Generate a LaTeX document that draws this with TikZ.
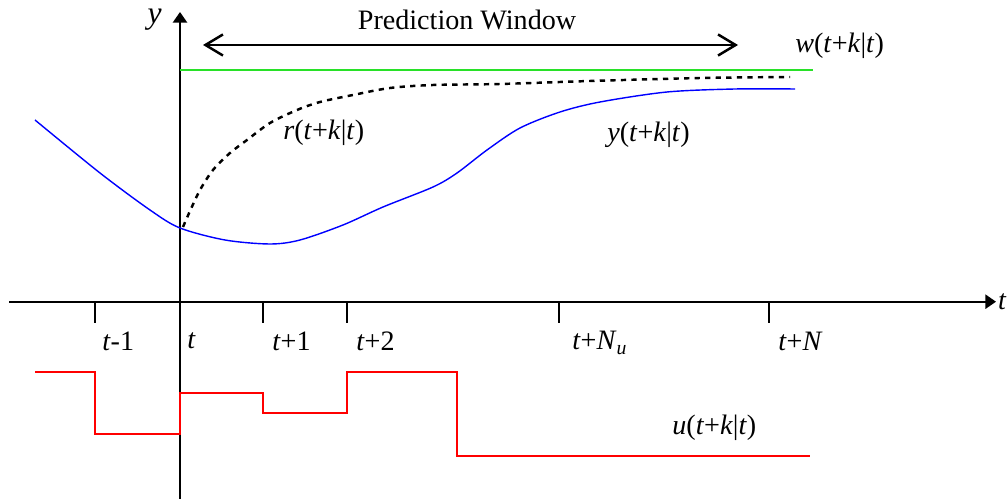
\documentclass[tikz,border=0pt]{standalone}
\usepackage{fontspec}
\setmainfont{Liberation Serif}
\usetikzlibrary{arrows.meta,positioning}
\definecolor{setgreen}{RGB}{40,225,40}
\tikzset{
    myaxis/.style={line width=1.1pt,draw=black,-{Triangle[length=6pt,width=8pt]}},
    mytick/.style={line width=0.9pt,draw=black},
    mywindow/.style={line width=0.9pt,draw=black,{Straight Barb[length=10pt,width=12pt,line width=1.4pt]}-{Straight Barb[length=10pt,width=12pt,line width=1.4pt]}},
    myref/.style={line width=0.9pt,draw=setgreen},
    mypred/.style={line width=1.4pt,draw=black,dash pattern=on 3pt off 3pt},
    myout/.style={line width=0.8pt,draw=blue},
    myin/.style={line width=0.8pt,draw=red},
    mylabel/.style={anchor=west,inner sep=0pt},
    every node/.style={font=\fontsize{16}{19}\selectfont}
}

\begin{document}
\begin{tikzpicture}[x=0.02cm,y=-0.02cm]
  \useasboundingbox (0,0) rectangle (1007,499);

  % axes
  \coordinate (O) at (180,301.7);
  \coordinate (xl) at (9,301.7);
  \coordinate (xr) at (996,301.7);
  \coordinate (yb) at (180,499);
  \coordinate (yt) at (180,12);
  \draw[myaxis] (xl) -- (xr);
  \draw[myaxis] (yb) -- (yt);
  \node[anchor=west,inner sep=1pt] (tlab) at (xr) {\textit{t}};
  \node[anchor=east,inner sep=0pt,font=\fontsize{18}{21}\selectfont] (ylab) at (162,20) {\textit{y}};

  % ticks
  \foreach \x/\n in {95/tm1,263/tp1,347/tp2,559/tpNu,769/tpN}{
    \coordinate (\n-a) at (\x,301.7);
    \coordinate (\n-b) at (\x,323);
    \draw[mytick] (\n-a) -- (\n-b);
  }
  \node[mylabel] (ltm1) at (102,341) {\textit{t}-1};
  \node[mylabel] (lt) at (187,341) {\textit{t}};
  \node[mylabel] (ltp1) at (272,341) {\textit{t}+1};
  \node[mylabel] (ltp2) at (356,341) {\textit{t}+2};
  \node[mylabel] (ltpNu) at (572,343) {\textit{t}+\textit{N}\textsubscript{\textit{u}}};
  \node[mylabel] (ltpN) at (778,341) {\textit{t}+\textit{N}};

  % prediction window
  \coordinate (pwl) at (203,45);
  \coordinate (pwr) at (738,45);
  \draw[mywindow] (pwl) -- (pwr);
  \node (pwtext) at (467,20) {Prediction Window};

  % set point
  \coordinate (wl) at (180,70);
  \coordinate (wr) at (813,70);
  \draw[myref] (wl) -- (wr);
  \node[mylabel] (wlab) at (795,46) {\textit{w}(\textit{t}+\textit{k}|\textit{t})};

  % reference trajectory
  \draw[mypred] plot[smooth,tension=0.5] coordinates {
    (183,227) (190,211) (200,190) (213,170) (230,153) (247,140)
    (270,123) (297,110) (320,102) (353,95) (390,88) (433,85)
    (500,84) (590,81) (700,78) (790,77)};
  \node[mylabel] (rlab) at (283,133) {\textit{r}(\textit{t}+\textit{k}|\textit{t})};

  % predicted output
  \draw[myout] plot[smooth,tension=0.5] coordinates {
    (35,120) (100,173) (150,210) (180,228) (225,240) (270,244)
    (300,240) (343,225) (383,207) (433,187) (457,173) (487,150)
    (520,128) (560,112) (600,102) (667,92) (735,89) (795,89)};
  \node[mylabel] (ylab2) at (607,135) {\textit{y}(\textit{t}+\textit{k}|\textit{t})};

  % control input
  \draw[myin] (35,372) -| (95,434) -| (180,393) -| (263,413) -| (347,372)
    -| (457,456) -- (810,456);
  \node[mylabel] (ulab) at (672,428) {\textit{u}(\textit{t}+\textit{k}|\textit{t})};
\end{tikzpicture}
\end{document}
